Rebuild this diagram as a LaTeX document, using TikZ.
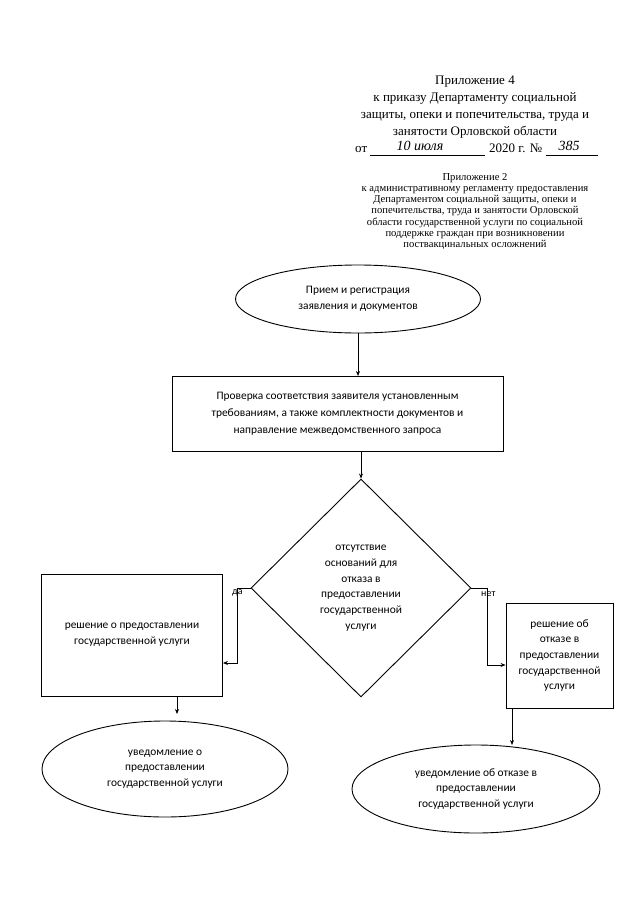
\documentclass[tikz,border=0pt]{standalone}
\usepackage{fontspec}
\setmainfont{Liberation Serif}
\newfontfamily\calib{Carlito}
\usetikzlibrary{shapes.geometric,arrows.meta,calc}
\begin{document}
\begin{tikzpicture}[x=1pt,y=-1pt,
  shp/.style={draw=black,line width=0.9pt,align=center,inner sep=0pt,font=\calib\fontsize{11.4}{15.7}\selectfont},
  oval/.style={shp,ellipse},
  boxx/.style={shp,rectangle},
  dmd/.style={shp,diamond},
  arr/.style={line width=0.7pt,-{Stealth[length=5pt,width=4pt]}},
  hdr/.style={align=center,inner sep=0pt,font=\fontsize{13}{17}\selectfont},
  hdrs/.style={align=center,inner sep=0pt,font=\fontsize{10.6}{11.2}\selectfont},
  lbl/.style={inner sep=0pt,font=\calib\fontsize{10}{12}\selectfont}
]
\useasboundingbox (0,0) rectangle (640,905);
\fill[white] (0,0) rectangle (640,905);

% header
\node[hdr,anchor=north] (h1) at (475,76) {Приложение 4\\к приказу Департаменту социальной\\защиты, опеки и попечительства, труда и\\занятости Орловской области};
\node[hdr,anchor=base west] (hot) at (355,152) {от};
\node[hdr,anchor=base,font=\itshape\fontsize{14}{17}\selectfont] (hdate) at (420,150) {10 июля};
\node[hdr,anchor=base west] (hyear) at (489,152) {2020 г. №};
\draw[line width=0.6pt] (hot.base east) ++(3,3) coordinate (u1) -- ($(u1 -| hyear.west)+(-4,0)$);
\node[hdr,anchor=base,font=\itshape\fontsize{14}{17}\selectfont] (hnum) at (569,150) {385};
\draw[line width=0.6pt] (hyear.base east) ++(3,3) coordinate (u2) -- ++(52,0);

\node[hdrs,anchor=north] (h2) at (475,173) {Приложение 2\\к административному регламенту предоставления\\Департаментом социальной защиты, опеки и\\попечительства, труда и занятости Орловской\\области государственной услуги по социальной\\поддержке граждан при возникновении\\поствакцинальных осложнений};

% flowchart
\node[oval,minimum width=245,minimum height=68] (e1) at (358,299) {Прием и регистрация\\заявления и документов};
\node[boxx,minimum width=331,minimum height=75,font=\calib\fontsize{11.4}{16.8}\selectfont] (b1) at (337.5,413.5) {Проверка соответствия заявителя установленным\\требованиям, а также комплектности документов и\\направление межведомственного запроса};
\node[dmd,minimum width=220,minimum height=218] (d) at (361,588) {отсутствие\\оснований для\\отказа в\\предоставлении\\государственной\\услуги};
\node[boxx,minimum width=181,minimum height=122] (lb) at (132,635) {решение о предоставлении\\государственной услуги};
\node[boxx,minimum width=107,minimum height=105] (rb) at (559.5,655.5) {решение об\\отказе в\\предоставлении\\государственной\\услуги};
\node[oval,minimum width=246,minimum height=96] (e2) at (165,769) {уведомление о\\предоставлении\\государственной услуги};
\node[oval,minimum width=248,minimum height=88] (e3) at (476,789) {уведомление об отказе в\\предоставлении\\государственной услуги};

\node[lbl,anchor=west] (lda) at (232,593) {да};
\node[lbl,anchor=west] (lnet) at (481,594) {нет};

\coordinate (a1) at (358,376);
\draw[arr] (a1 |- e1.south) -- (a1);
\draw[arr] (d.north |- b1.south) -- (d.north);
\coordinate (dal) at (237,663);
\draw[arr] (d.west) -| (dal) -- (dal -| lb.east);
\coordinate (dar) at (487,665);
\draw[arr] (d.east) -| (dar) -- (dar -| rb.west);
\coordinate (a3) at (177,714);
\draw[arr] (a3 |- lb.south) -- (a3);
\coordinate (a4) at (512,745);
\draw[arr] (a4 |- rb.south) -- (a4);
\end{tikzpicture}
\end{document}
